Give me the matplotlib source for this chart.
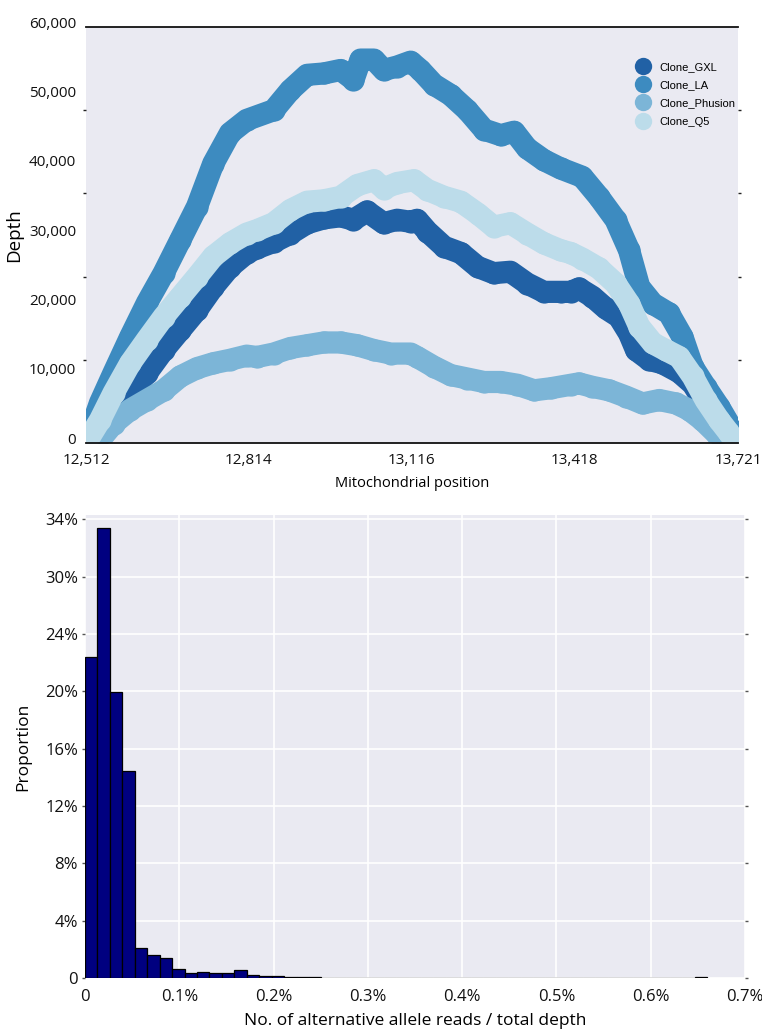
import matplotlib.pyplot as plt
from matplotlib.lines import Line2D
from matplotlib.ticker import FixedLocator
from matplotlib.transforms import ScaledTranslation

# ---- top panel: depth along the amplicon ----
CLONES = ["Clone_GXL", "Clone_LA", "Clone_Phusion", "Clone_Q5"]
CLONE_COLORS = ["#2161a5", "#3d8bc0", "#7cb5d7", "#bcdcea"]

GXL_POS = [12512, 12563, 12594, 12625, 12656, 12687, 12718, 12748, 12779, 12810,
           12829, 12860, 12891, 12922, 12953, 12984, 13008, 13033, 13064, 13089,
           13114, 13126, 13145, 13176, 13207, 13238, 13268, 13299, 13330, 13361,
           13392, 13411, 13426, 13451, 13476, 13500, 13519, 13532, 13556, 13581,
           13612, 13637, 13661, 13686, 13711, 13721]
GXL_DEPTH = [0, 3500, 7200, 10100, 13400, 16300, 19200, 22500, 25400, 27400,
             28100, 29000, 30200, 31700, 32400, 32700, 32200, 33400, 31700, 32200,
             31900, 32200, 30500, 28300, 27400, 25400, 24500, 24700, 23000, 21800,
             21800, 21800, 22300, 21100, 19400, 18200, 15800, 13400, 12000, 11500,
             10200, 8500, 5500, 3000, 800, 0]

LA_POS = [12512, 12538, 12563, 12594, 12625, 12656, 12687, 12718, 12748, 12779,
          12810, 12860, 12891, 12922, 12953, 12984, 13008, 13021, 13046, 13064,
          13089, 13114, 13132, 13157, 13188, 13219, 13250, 13281, 13306, 13330,
          13361, 13392, 13432, 13463, 13494, 13519, 13538, 13563, 13593, 13618,
          13637, 13661, 13686, 13711, 13721]
LA_DEPTH = [0, 5800, 10100, 15300, 20200, 24500, 29300, 34100, 40300, 44700,
            46600, 48000, 50900, 53100, 53300, 53800, 52400, 55300, 55300, 53800,
            54300, 55000, 53800, 51700, 50200, 48000, 45200, 44400, 44900, 42500,
            40800, 39600, 38400, 35500, 32200, 27800, 22500, 20100, 18700, 15300,
            11000, 8100, 5200, 1900, 0]

PHUSION_POS = [12533, 12563, 12594, 12625, 12656, 12687, 12718, 12748, 12779, 12810,
               12829, 12860, 12891, 12922, 12953, 12984, 13015, 13046, 13077, 13114,
               13126, 13157, 13188, 13219, 13250, 13281, 13312, 13343, 13374, 13411,
               13426, 13451, 13482, 13513, 13544, 13575, 13606, 13630, 13655, 13680,
               13694]
PHUSION_DEPTH = [0, 2800, 4800, 6200, 7600, 9600, 10800, 11500, 12000, 12600,
                 12400, 12900, 13700, 14100, 14500, 14500, 14100, 13400, 12900, 12900,
                 12400, 11000, 9800, 9300, 8800, 8800, 8400, 7600, 7900, 8400,
                 8600, 8100, 7600, 6700, 5700, 6200, 5700, 4800, 3300, 1400,
                 0]

Q5_POS = [12512, 12538, 12563, 12594, 12625, 12656, 12687, 12718, 12748, 12779,
          12810, 12829, 12860, 12891, 12922, 12953, 12984, 13015, 13046, 13064,
          13089, 13120, 13145, 13176, 13207, 13238, 13268, 13299, 13330, 13361,
          13392, 13411, 13432, 13463, 13494, 13519, 13538, 13563, 13587, 13612,
          13637, 13661, 13686, 13705, 13718]
Q5_DEPTH = [0, 3300, 7200, 11500, 14900, 18200, 21100, 24000, 26900, 28800,
            30200, 30700, 31700, 33600, 34800, 35000, 35500, 37200, 37900, 36700,
            37500, 37900, 36500, 35500, 34800, 33100, 31200, 31700, 30200, 28800,
            27800, 27400, 26600, 25200, 23000, 20100, 16800, 14400, 13400, 12400,
            9600, 6200, 3300, 1400, 0]

POS_TICKS = [12512, 12814, 13116, 13418, 13721]
DEPTH_TICKS = [0, 10000, 20000, 30000, 40000, 50000, 60000]
DEPTH_MINOR = [12000, 24000, 36000, 48000]

# ---- bottom panel: alt allele fraction histogram (50 bins) ----
BIN_START = 0.0
BIN_END = 0.0066
PROPORTIONS = [0.2238, 0.3140, 0.1993, 0.1444, 0.0207, 0.0160, 0.0137, 0.0061, 0.0033, 0.0045,
               0.0033, 0.0033, 0.0054, 0.0022, 0.0015, 0.0015, 0.0008, 0.0006, 0.0004, 0.0001,
               0.0003, 0.0003, 0.0001, 0.0, 0.0001, 0.0, 0.0001, 0.0003, 0.0003, 0.0001,
               0.0, 0.0003, 0.0001, 0.0, 0.0003, 0.0001, 0.0, 0.0001, 0.0003, 0.0,
               0.0003, 0.0001, 0.0, 0.0003, 0.0003, 0.0001, 0.0, 0.0003, 0.0003, 0.0005]
FRAC_TICKS = [0, 0.001, 0.002, 0.003, 0.004, 0.005, 0.006, 0.007]
FRAC_LABELS = ["0", "0.1%", "0.2%", "0.3%", "0.4%", "0.5%", "0.6%", "0.7%"]
PROP_TICKS = [0, 0.04, 0.08, 0.12, 0.16, 0.20, 0.24, 0.28, 0.32]
PROP_LABELS = ["0", "4%", "8%", "12%", "16%", "20%", "24%", "30%", "34%"]

BG = "#eaeaf2"
TXT = ["Open Sans", "DejaVu Sans"]
NARROW = ["Liberation Sans Narrow", "Liberation Sans", "DejaVu Sans"]

fig = plt.figure(figsize=(7.62, 10.32), dpi=100)

# top axes
ax1 = fig.add_axes([86 / 762, 1 - 443 / 1032, 652 / 762, 416 / 1032])
ax1.set_facecolor(BG)
series = [(GXL_POS, GXL_DEPTH), (LA_POS, LA_DEPTH),
          (PHUSION_POS, PHUSION_DEPTH), (Q5_POS, Q5_DEPTH)]
for (pos, depth), color in zip(series, CLONE_COLORS):
    ax1.plot(pos, depth, "-o", color=color, lw=16, ms=16, mew=0,
             solid_capstyle="round", solid_joinstyle="round")

ax1.set_xlim(POS_TICKS[0], POS_TICKS[-1])
ax1.set_ylim(0, 60000)
ax1.set_xticks(POS_TICKS)
ax1.set_xticklabels([f"{v:,}" for v in POS_TICKS], family=TXT, fontsize=11)
ax1.set_yticks(DEPTH_TICKS)
ax1.set_yticklabels([f"{v:,}" for v in DEPTH_TICKS], family=TXT, fontsize=11)
ax1.yaxis.set_minor_locator(FixedLocator(DEPTH_MINOR))
ax1.tick_params(axis="x", which="major", length=0, pad=7, colors="#111111")
ax1.tick_params(axis="y", which="major", length=0, pad=7, colors="#111111")
ax1.tick_params(axis="y", which="minor", left=True, right=True, length=2.5,
                width=1, color="#222222")
# the depth labels sit a few pixels above their grid value in the original
shift = ScaledTranslation(0, 5 / 100, fig.dpi_scale_trans)
for lab in ax1.get_yticklabels():
    lab.set_transform(lab.get_transform() + shift)
for side in ("left", "right"):
    ax1.spines[side].set_visible(False)
for side in ("top", "bottom"):
    ax1.spines[side].set_color("#111111")
    ax1.spines[side].set_linewidth(1.3)
ax1.set_ylabel("Depth", family=TXT, fontsize=13.5, labelpad=4)
ax1.set_xlabel("Mitochondrial position", family=TXT, fontsize=10.5, labelpad=6)

handles = [Line2D([], [], ls="none", marker="o", ms=12.5, mew=0, color=c)
           for c in CLONE_COLORS]
ax1.legend(handles, CLONES, loc="upper left", bbox_to_anchor=(0.838, 0.93),
           frameon=False, borderpad=0, handlelength=1.0, handletextpad=0.9,
           labelspacing=0.75, prop={"family": NARROW, "size": 8})

# bottom axes
ax2 = fig.add_axes([85 / 762, 1 - 978 / 1032, 660 / 762, 463 / 1032])
ax2.set_facecolor(BG)
nbins = len(PROPORTIONS)
width = (BIN_END - BIN_START) / nbins
lefts = [BIN_START + i * width for i in range(nbins)]
ax2.bar(lefts, PROPORTIONS, width=width, align="edge", color="#000080",
        edgecolor="black", linewidth=0.9, zorder=3)
ax2.set_xlim(0, 0.007)
ax2.set_ylim(0, 0.323)
ax2.set_xticks(FRAC_TICKS)
ax2.set_xticklabels(FRAC_LABELS, family=TXT, fontsize=12)
ax2.set_yticks(PROP_TICKS)
ax2.set_yticklabels(PROP_LABELS, family=TXT, fontsize=12)
ax2.grid(True, color="white", lw=1.2, zorder=0)
ax2.set_axisbelow(True)
ax2.tick_params(axis="x", length=0, pad=8, colors="#111111")
ax2.tick_params(axis="y", left=True, right=True, length=2, width=1,
                color="#555555", pad=3, labelcolor="#111111")
for side in ax2.spines:
    ax2.spines[side].set_visible(False)
ax2.set_ylabel("Proportion", family=TXT, fontsize=12.5, labelpad=10)
ax2.set_xlabel("No. of alternative allele reads / total depth", family=TXT,
               fontsize=12.5, labelpad=6)

fig.savefig("out.png", dpi=100)
